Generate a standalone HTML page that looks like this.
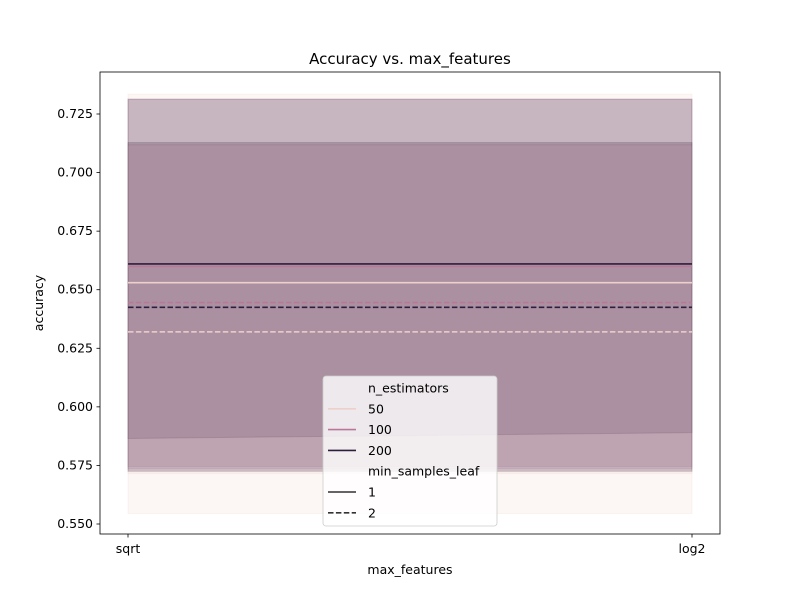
<!DOCTYPE html>
<html><head><meta charset="utf-8"><style>
body{margin:0;background:#fff;font-family:"Liberation Sans","DejaVu Sans",sans-serif}
svg text{font-family:"DejaVu Sans","Liberation Sans",sans-serif}
</style></head><body>
<svg id="chart" width="800" height="600" viewBox="0 0 800 600" xmlns="http://www.w3.org/2000/svg"></svg>
<script>
const categories = ["sqrt", "log2"];
const yTicks = [0.550, 0.575, 0.600, 0.625, 0.650, 0.675, 0.700, 0.725];
const seriesNames = ["50-1", "100-1", "200-1", "50-2", "100-2", "200-2"];
const seriesEst = ["50", "100", "200", "50", "100", "200"];
const seriesLeaf = ["1", "1", "1", "2", "2", "2"];
const meanValues = [[0.653,0.653],[0.660,0.660],[0.661,0.661],[0.632,0.632],[0.6445,0.6445],[0.6425,0.6425]];
const lowValues = [[0.5715,0.5715],[0.5745,0.5745],[0.5865,0.589],[0.5545,0.5545],[0.5735,0.5735],[0.5725,0.5725]];
const highValues = [[0.7335,0.7335],[0.7315,0.7315],[0.7312,0.7312],[0.711,0.711],[0.712,0.712],[0.7128,0.7128]];
const colors = {"50":"#eed0ca","100":"#b9789a","200":"#2d1e3e"};

const NS="http://www.w3.org/2000/svg";
const svg=document.getElementById('chart');
function el(t,a,p){const e=document.createElementNS(NS,t);for(const k in a)e.setAttribute(k,a[k]);(p||svg).appendChild(e);return e;}
const X0=100,X1=720,Y0=72,Y1=534;
function xs(i){return 128+i*(692-128)/(categories.length-1);}
function ys(v){return 524-(v-0.55)*(410/0.175);}

const bg=el('rect',{x:X0,y:Y0,width:X1-X0,height:Y1-Y0,fill:'#fff'});



for(let s=0;s<seriesNames.length;s++){
  let pts=[];
  for(let i=0;i<categories.length;i++)pts.push(xs(i)+','+ys(highValues[s][i]));
  for(let i=categories.length-1;i>=0;i--)pts.push(xs(i)+','+ys(lowValues[s][i]));
  const b=el('polygon',{points:pts.join(' '),fill:colors[seriesEst[s]],'fill-opacity':0.2,stroke:colors[seriesEst[s]],'stroke-opacity':0.2});
  
  
}
for(let s=0;s<seriesNames.length;s++){
  let d='';
  for(let i=0;i<categories.length;i++)d+=(i?'L':'M')+xs(i)+' '+ys(meanValues[s][i]);
  const a={d:d,fill:'none',stroke:colors[seriesEst[s]],'stroke-width':1.6};
  if(seriesLeaf[s]==="2")a['stroke-dasharray']='5.5,2.4';
  const l=el('path',a);
  
  
}
const frame=el('rect',{x:X0,y:Y0,width:X1-X0,height:Y1-Y0,fill:'none',stroke:'#000','stroke-width':0.8});



for(const v of yTicks){
  const y=ys(v);
  el('line',{x1:X0-3.5,x2:X0,y1:y,y2:y,stroke:'#000','stroke-width':0.8});
  const t=el('text',{x:X0-7,y:y+4,'font-size':12.5,'text-anchor':'end'});
  t.textContent=v.toFixed(3);
  
  
}
categories.forEach((c,i)=>{
  const x=xs(i);
  el('line',{x1:x,x2:x,y1:Y1,y2:Y1+3.5,stroke:'#000','stroke-width':0.8});
  const t=el('text',{x:x,y:Y1+19,'font-size':12.5,'text-anchor':'middle'});
  t.textContent=c;
  
  
});
const xt=el('text',{x:410,y:574,'font-size':12.5,'text-anchor':'middle'});xt.textContent='max_features';


const yt=el('text',{x:0,y:0,'font-size':12.5,'text-anchor':'middle',transform:'translate(43,303) rotate(-90)'});yt.textContent='accuracy';


const tt=el('text',{x:410,y:64,'font-size':15,'text-anchor':'middle'});tt.textContent='Accuracy vs. max_features';



const lg=el('g',{});


el('rect',{x:323,y:376,width:174,height:150,rx:3,fill:'#fff','fill-opacity':0.8,stroke:'#ccc','stroke-width':0.8},lg);
const rows=[["n_estimators",null,null],["50","50",false],["100","100",false],["200","200",false],["min_samples_leaf",null,null],["1","k",false],["2","k",true]];
rows.forEach((r,i)=>{
  const y=388+i*20.8;
  if(r[1]){
    const a={x1:328,x2:356,y1:y,y2:y,stroke:r[1]==='k'?'#333':colors[r[1]],'stroke-width':1.6};
    if(r[2])a['stroke-dasharray']='5.5,2.4';
    el('line',a,lg);
  }
  const t=el('text',{x:368,y:y+4.5,'font-size':12.5},lg);
  t.textContent=r[0];
  
  
});
</script>
</body></html>
